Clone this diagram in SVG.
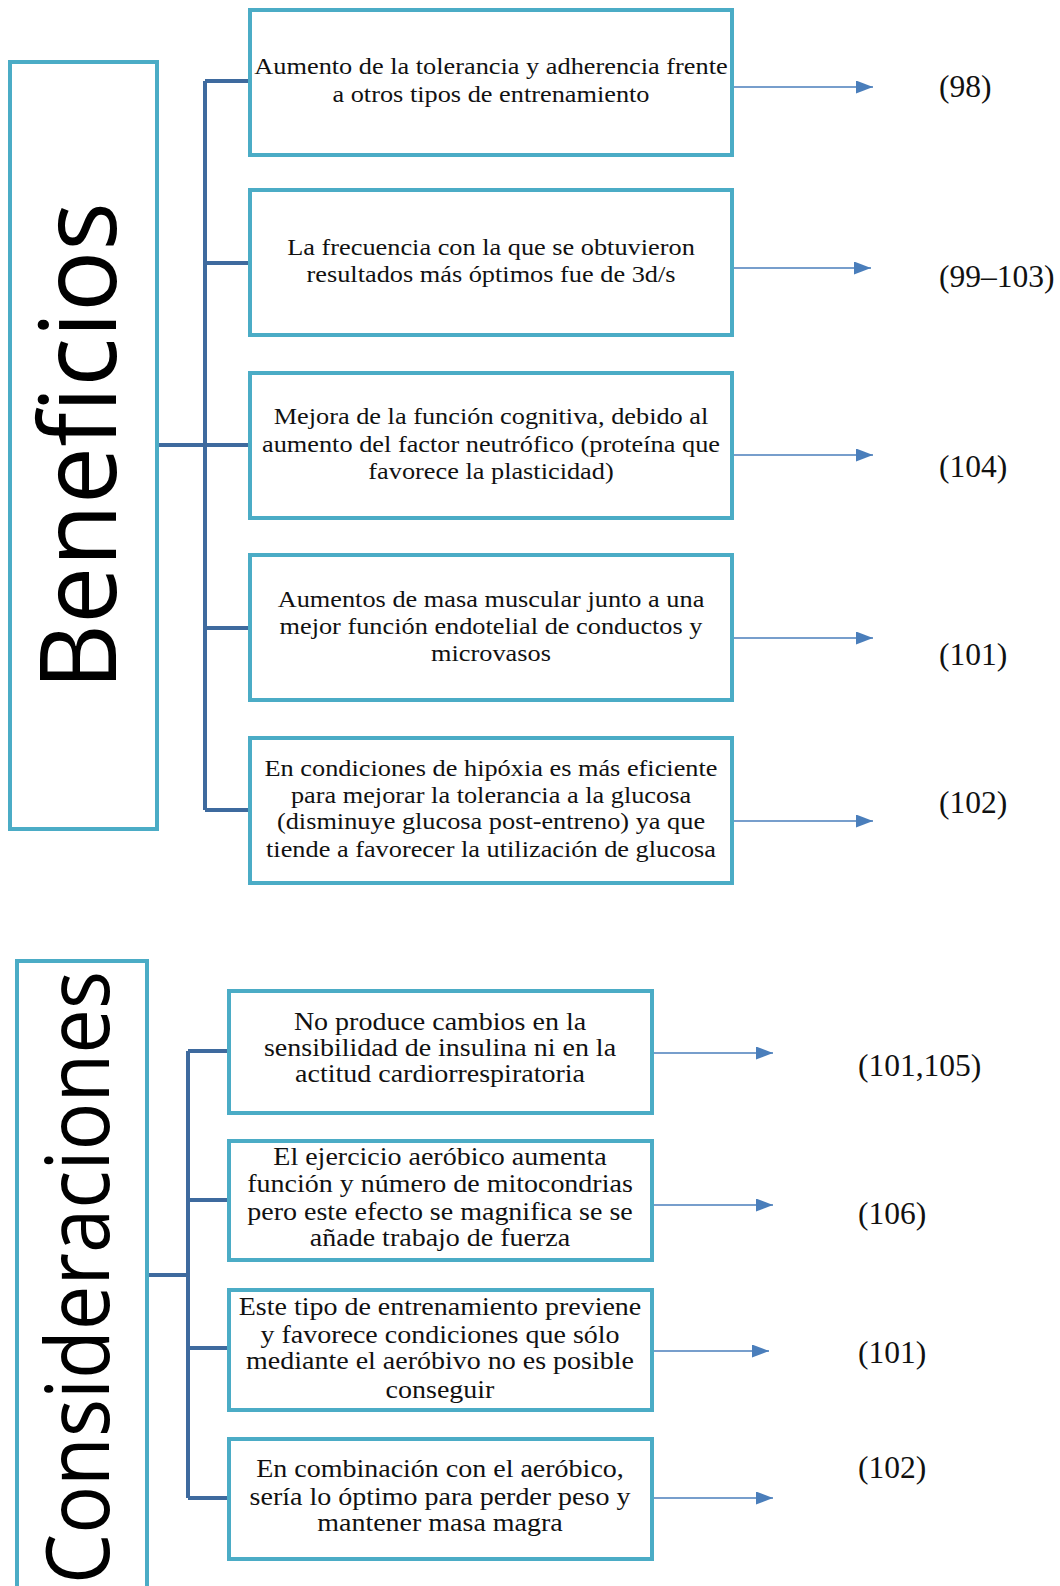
<svg xmlns="http://www.w3.org/2000/svg" width="1060" height="1586" viewBox="0 0 1060 1586">
<style>
.box{fill:#fff;stroke:#4bacc6;stroke-width:4}
.tree{fill:none;stroke:#3e6a9e;stroke-width:4}
.arr{fill:none;stroke:#4a7ebb;stroke-width:1.6}
.t{font-family:"Liberation Serif","Times New Roman",serif;font-size:23.5px;fill:#111;text-anchor:middle}
.tc{font-family:"Liberation Serif","Times New Roman",serif;font-size:25px;fill:#111;text-anchor:middle}
.ref{font-family:"Liberation Serif","Times New Roman",serif;font-size:31.5px;fill:#111}
.title{font-family:"Open Sans","Noto Sans",sans-serif;fill:#000}
</style>
<defs>
<marker id="ah" viewBox="0 0 10 10" refX="10" refY="5" markerWidth="17" markerHeight="13" markerUnits="userSpaceOnUse" orient="auto" preserveAspectRatio="none">
<path d="M0,0 L10,5 L0,10 z" fill="#4a7ebb"/>
</marker>
</defs>
<g id="connectors">
<path class="tree" d="M157,445 H205 M205,81 V810 M205,81 H250 M205,263 H250 M205,445 H250 M205,628 H250 M205,810 H250"/>
<path class="tree" d="M148,1275 H188 M188,1051 V1498 M188,1051 H229 M188,1200 H229 M188,1348 H229 M188,1498 H229"/>
<g class="arr">
<line x1="732" y1="87" x2="873" y2="87" marker-end="url(#ah)"/>
<line x1="732" y1="268" x2="871" y2="268" marker-end="url(#ah)"/>
<line x1="732" y1="455" x2="873" y2="455" marker-end="url(#ah)"/>
<line x1="732" y1="638" x2="873" y2="638" marker-end="url(#ah)"/>
<line x1="732" y1="821" x2="873" y2="821" marker-end="url(#ah)"/>
<line x1="652" y1="1053" x2="773" y2="1053" marker-end="url(#ah)"/>
<line x1="652" y1="1205" x2="773" y2="1205" marker-end="url(#ah)"/>
<line x1="646" y1="1351" x2="769" y2="1351" marker-end="url(#ah)"/>
<line x1="652" y1="1498" x2="773" y2="1498" marker-end="url(#ah)"/>
</g>
</g>
<g id="beneficios">
<rect class="box" x="10" y="62" width="147" height="767"/>
<text class="title" transform="translate(116,690) rotate(-90)" font-size="106" textLength="488" lengthAdjust="spacingAndGlyphs">Beneficios</text>
</g>
<g id="b1">
<rect class="box" x="250" y="10" width="482" height="145"/>
<g transform="translate(491,0) scale(1.12,1)">
<text class="t" x="0" y="74">Aumento de la tolerancia y adherencia frente</text>
<text class="t" x="0" y="102">a otros tipos de entrenamiento</text>
</g>
</g>
<g id="b2">
<rect class="box" x="250" y="190" width="482" height="145"/>
<g transform="translate(491,0) scale(1.12,1)">
<text class="t" x="0" y="255">La frecuencia con la que se obtuvieron</text>
<text class="t" x="0" y="282">resultados más óptimos fue de 3d/s</text>
</g>
</g>
<g id="b3">
<rect class="box" x="250" y="373" width="482" height="145"/>
<g transform="translate(491,0) scale(1.12,1)">
<text class="t" x="0" y="424">Mejora de la función cognitiva, debido al</text>
<text class="t" x="0" y="452">aumento del factor neutrófico (proteína que</text>
<text class="t" x="0" y="479">favorece la plasticidad)</text>
</g>
</g>
<g id="b4">
<rect class="box" x="250" y="555" width="482" height="145"/>
<g transform="translate(491,0) scale(1.12,1)">
<text class="t" x="0" y="607">Aumentos de masa muscular junto a una</text>
<text class="t" x="0" y="634">mejor función endotelial de conductos y</text>
<text class="t" x="0" y="661">microvasos</text>
</g>
</g>
<g id="b5">
<rect class="box" x="250" y="738" width="482" height="145"/>
<g transform="translate(491,0) scale(1.12,1)">
<text class="t" x="0" y="776">En condiciones de hipóxia es más eficiente</text>
<text class="t" x="0" y="803">para mejorar la tolerancia a la glucosa</text>
<text class="t" x="0" y="829">(disminuye glucosa post-entreno) ya que</text>
<text class="t" x="0" y="857">tiende a favorecer la utilización de glucosa</text>
</g>
</g>
<g id="refs-b">
<text class="ref" x="939" y="97">(98)</text>
<text class="ref" x="939" y="287">(99–103)</text>
<text class="ref" x="939" y="477">(104)</text>
<text class="ref" x="939" y="665">(101)</text>
<text class="ref" x="939" y="813">(102)</text>
</g>
<g id="consideraciones">
<rect class="box" x="17" y="961" width="130" height="700"/>
<text class="title" transform="translate(109,1584) rotate(-90)" font-size="88" textLength="613" lengthAdjust="spacingAndGlyphs">Consideraciones</text>
</g>
<g id="c1">
<rect class="box" x="229" y="991" width="423" height="122"/>
<g transform="translate(440,0) scale(1.12,1)">
<text class="tc" x="0" y="1030">No produce cambios en la</text>
<text class="tc" x="0" y="1056">sensibilidad de insulina ni en la</text>
<text class="tc" x="0" y="1082">actitud cardiorrespiratoria</text>
</g>
</g>
<g id="c2">
<rect class="box" x="229" y="1141" width="423" height="119"/>
<g transform="translate(440,0) scale(1.12,1)">
<text class="tc" x="0" y="1165">El ejercicio aeróbico aumenta</text>
<text class="tc" x="0" y="1192">función y número de mitocondrias</text>
<text class="tc" x="0" y="1220">pero este efecto se magnifica se se</text>
<text class="tc" x="0" y="1246">añade trabajo de fuerza</text>
</g>
</g>
<g id="c3">
<rect class="box" x="229" y="1290" width="423" height="120"/>
<g transform="translate(440,0) scale(1.12,1)">
<text class="tc" x="0" y="1315">Este tipo de entrenamiento previene</text>
<text class="tc" x="0" y="1343">y favorece condiciones que sólo</text>
<text class="tc" x="0" y="1369">mediante el aeróbivo no es posible</text>
<text class="tc" x="0" y="1398">conseguir</text>
</g>
</g>
<g id="c4">
<rect class="box" x="229" y="1439" width="423" height="120"/>
<g transform="translate(440,0) scale(1.12,1)">
<text class="tc" x="0" y="1477">En combinación con el aeróbico,</text>
<text class="tc" x="0" y="1505">sería lo óptimo para perder peso y</text>
<text class="tc" x="0" y="1531">mantener masa magra</text>
</g>
</g>
<g id="refs-c">
<text class="ref" x="858" y="1076">(101,105)</text>
<text class="ref" x="858" y="1224">(106)</text>
<text class="ref" x="858" y="1363">(101)</text>
<text class="ref" x="858" y="1478">(102)</text>
</g>
</svg>
